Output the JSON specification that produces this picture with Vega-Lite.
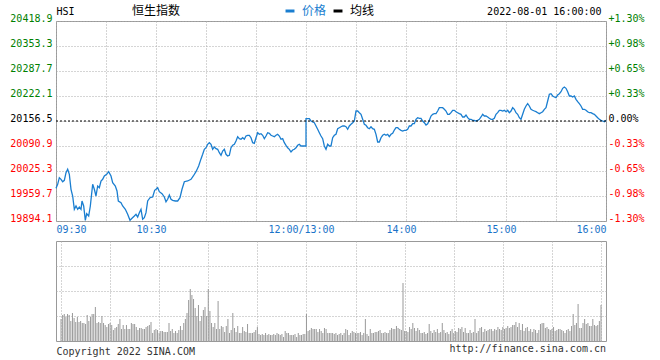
{
"$schema": "https://vega.github.io/schema/vega-lite/v6.json",
"background": "white",
"padding": {"left": 9, "top": 4, "right": 0, "bottom": 0},
"config": {"view": {"stroke": "#999999", "strokeWidth": 1}, "font": "DejaVu Sans Mono"},
"spacing": 20,
"bounds": "flush",
"datasets": {
"price": [
{"t":0,"p":19979.9},{"t":1,"p":19990.4},{"t":2,"p":20007.7},{"t":3,"p":20003.5},{"t":4,"p":19997.2},{"t":5,"p":20000.9},{"t":6,"p":20020.8},{"t":7,"p":20029.8},{"t":8,"p":20016.6},{"t":9,"p":19977.3},{"t":10,"p":19959.7},{"t":11,"p":19924.8},{"t":12,"p":19933.5},{"t":13,"p":19924.8},{"t":14,"p":19930.8},{"t":15,"p":19924.8},{"t":15.6,"p":19946.6},{"t":16.6,"p":19933.5},{"t":17.6,"p":19895.9},{"t":18.4,"p":19913.3},{"t":19.6,"p":19907.2},{"t":20.6,"p":19933.5},{"t":22,"p":19990.4},{"t":23,"p":19977.3},{"t":24,"p":19959.7},{"t":25,"p":19985.9},{"t":26,"p":19981.5},{"t":27,"p":19999.1},{"t":28,"p":20003.5},{"t":29,"p":20012.2},{"t":30.4,"p":20016.6},{"t":31.6,"p":20023.5},{"t":33,"p":20012.2},{"t":34,"p":19994.6},{"t":35.6,"p":19985.9},{"t":36.6,"p":19972.8},{"t":37.4,"p":19946.6},{"t":39,"p":19942.1},{"t":40,"p":19933.5},{"t":41.6,"p":19924.8},{"t":43,"p":19911.7},{"t":44.4,"p":19895.9},{"t":45.6,"p":19901.2},{"t":47,"p":19907.2},{"t":48,"p":19911.7},{"t":49,"p":19904.6},{"t":50,"p":19915.9},{"t":51,"p":19924.8},{"t":52,"p":19898.6},{"t":53,"p":19902.8},{"t":54,"p":19915.9},{"t":55,"p":19946.6},{"t":56.4,"p":19955.2},{"t":58,"p":19957.1},{"t":59.2,"p":19974.7},{"t":60,"p":19977.3},{"t":61,"p":19981.5},{"t":62,"p":19971.0},{"t":63.6,"p":19965.7},{"t":65,"p":19957.1},{"t":66,"p":19944.7},{"t":67,"p":19951.0},{"t":68,"p":19962.3},{"t":69,"p":19951.0},{"t":70,"p":19948.4},{"t":71.6,"p":19946.6},{"t":73,"p":19946.6},{"t":74.4,"p":19955.2},{"t":75.6,"p":19977.3},{"t":77,"p":19997.2},{"t":79,"p":19999.1},{"t":81,"p":20003.5},{"t":82.4,"p":20012.2},{"t":84,"p":20023.5},{"t":85.6,"p":20038.4},{"t":87,"p":20057.0},{"t":88,"p":20069.1},{"t":89,"p":20082.2},{"t":90,"p":20086.4},{"t":91,"p":20095.4},{"t":92,"p":20099.6},{"t":93,"p":20095.4},{"t":94,"p":20082.2},{"t":95,"p":20088.3},{"t":96,"p":20083.8},{"t":97,"p":20082.2},{"t":98,"p":20073.3},{"t":99,"p":20066.5},{"t":100,"p":20077.8},{"t":101,"p":20082.2},{"t":102,"p":20069.1},{"t":103,"p":20064.7},{"t":104,"p":20066.5},{"t":105,"p":20086.4},{"t":106,"p":20092.7},{"t":107,"p":20095.4},{"t":108,"p":20104.0},{"t":109,"p":20115.3},{"t":110,"p":20110.1},{"t":111,"p":20108.5},{"t":112,"p":20112.7},{"t":113,"p":20108.5},{"t":114,"p":20117.1},{"t":115,"p":20119.0},{"t":116,"p":20119.0},{"t":117,"p":20112.7},{"t":118,"p":20099.6},{"t":119,"p":20098.0},{"t":120,"p":20112.7},{"t":121,"p":20125.8},{"t":122,"p":20121.6},{"t":123,"p":20123.2},{"t":124,"p":20119.0},{"t":125,"p":20110.1},{"t":126,"p":20117.1},{"t":127,"p":20125.8},{"t":128,"p":20124.2},{"t":129,"p":20119.0},{"t":130,"p":20117.1},{"t":131,"p":20115.3},{"t":132,"p":20119.0},{"t":133,"p":20121.6},{"t":134,"p":20117.1},{"t":135,"p":20108.5},{"t":136,"p":20110.1},{"t":137,"p":20099.6},{"t":138,"p":20092.7},{"t":139,"p":20086.4},{"t":140,"p":20082.2},{"t":141,"p":20075.2},{"t":142,"p":20080.4},{"t":143,"p":20082.2},{"t":144,"p":20086.4},{"t":145,"p":20092.7},{"t":146,"p":20095.4},{"t":147,"p":20090.9},{"t":148,"p":20090.9},{"t":149,"p":20090.9},{"t":150,"p":20090.9},{"t":150,"p":20162.5},{"t":151,"p":20162.5},{"t":152,"p":20162.5},{"t":153,"p":20156.5},{"t":154,"p":20153.9},{"t":155,"p":20152.0},{"t":156,"p":20143.4},{"t":157,"p":20134.7},{"t":158,"p":20125.8},{"t":159,"p":20117.1},{"t":160,"p":20110.1},{"t":161,"p":20090.9},{"t":162,"p":20082.2},{"t":163,"p":20095.4},{"t":164,"p":20090.9},{"t":165,"p":20090.9},{"t":166,"p":20112.7},{"t":167,"p":20119.0},{"t":168,"p":20121.6},{"t":169,"p":20136.3},{"t":170,"p":20138.9},{"t":171,"p":20141.5},{"t":172,"p":20143.4},{"t":173,"p":20143.4},{"t":174,"p":20141.5},{"t":175,"p":20134.7},{"t":176,"p":20143.4},{"t":177,"p":20147.8},{"t":178,"p":20152.0},{"t":179,"p":20156.5},{"t":180,"p":20182.7},{"t":181,"p":20182.7},{"t":182,"p":20178.3},{"t":183,"p":20174.1},{"t":184,"p":20161.0},{"t":185,"p":20147.8},{"t":186,"p":20145.2},{"t":187,"p":20138.9},{"t":188,"p":20136.3},{"t":189,"p":20141.5},{"t":190,"p":20136.3},{"t":191,"p":20134.7},{"t":192,"p":20121.6},{"t":193,"p":20101.4},{"t":194,"p":20101.4},{"t":195,"p":20112.7},{"t":196,"p":20119.0},{"t":197,"p":20121.6},{"t":198,"p":20119.0},{"t":199,"p":20121.6},{"t":200,"p":20115.3},{"t":201,"p":20121.6},{"t":202,"p":20124.2},{"t":203,"p":20132.9},{"t":204,"p":20138.9},{"t":205,"p":20138.9},{"t":206,"p":20134.7},{"t":207,"p":20132.1},{"t":208,"p":20130.3},{"t":209,"p":20132.1},{"t":210,"p":20132.1},{"t":211,"p":20134.7},{"t":212,"p":20143.4},{"t":213,"p":20143.4},{"t":214,"p":20149.4},{"t":215,"p":20149.4},{"t":216,"p":20161.0},{"t":217,"p":20165.2},{"t":218,"p":20163.6},{"t":219,"p":20163.6},{"t":220,"p":20156.5},{"t":221,"p":20152.0},{"t":222,"p":20146.0},{"t":223,"p":20149.4},{"t":224,"p":20158.3},{"t":225,"p":20169.6},{"t":226,"p":20174.1},{"t":227,"p":20175.7},{"t":228,"p":20175.7},{"t":229,"p":20182.7},{"t":230,"p":20191.4},{"t":231,"p":20191.4},{"t":232,"p":20191.4},{"t":233,"p":20187.2},{"t":234,"p":20182.7},{"t":235,"p":20174.1},{"t":236,"p":20174.1},{"t":237,"p":20178.3},{"t":238,"p":20184.6},{"t":239,"p":20184.6},{"t":240,"p":20180.9},{"t":241,"p":20178.3},{"t":242,"p":20175.7},{"t":243,"p":20174.1},{"t":244,"p":20167.0},{"t":245,"p":20167.0},{"t":246,"p":20172.2},{"t":247,"p":20165.2},{"t":248,"p":20161.0},{"t":249,"p":20161.0},{"t":250,"p":20158.3},{"t":251,"p":20158.3},{"t":252,"p":20156.5},{"t":253,"p":20158.3},{"t":254,"p":20161.0},{"t":255,"p":20167.0},{"t":256,"p":20174.1},{"t":257,"p":20169.6},{"t":258,"p":20169.6},{"t":259,"p":20167.0},{"t":260,"p":20163.6},{"t":261,"p":20161.0},{"t":262,"p":20161.0},{"t":263,"p":20163.6},{"t":264,"p":20174.1},{"t":265,"p":20178.3},{"t":266,"p":20184.6},{"t":267,"p":20184.6},{"t":268,"p":20182.7},{"t":269,"p":20184.6},{"t":270,"p":20180.9},{"t":271,"p":20184.6},{"t":272,"p":20178.3},{"t":273,"p":20182.7},{"t":274,"p":20191.4},{"t":275,"p":20187.2},{"t":276,"p":20178.3},{"t":277,"p":20174.1},{"t":278,"p":20165.2},{"t":279,"p":20161.0},{"t":280,"p":20174.1},{"t":281,"p":20187.2},{"t":282,"p":20195.9},{"t":283,"p":20201.9},{"t":284,"p":20195.9},{"t":285,"p":20187.2},{"t":286,"p":20184.6},{"t":287,"p":20182.7},{"t":288,"p":20180.9},{"t":289,"p":20178.3},{"t":290,"p":20175.7},{"t":291,"p":20178.3},{"t":292,"p":20180.9},{"t":293,"p":20187.2},{"t":294,"p":20191.4},{"t":295,"p":20209.0},{"t":296,"p":20226.6},{"t":297,"p":20228.1},{"t":298,"p":20222.1},{"t":299,"p":20219.5},{"t":300,"p":20217.6},{"t":301,"p":20224.7},{"t":302,"p":20228.1},{"t":303,"p":20233.4},{"t":304,"p":20242.3},{"t":305,"p":20245.7},{"t":306,"p":20242.3},{"t":307,"p":20233.4},{"t":308,"p":20222.1},{"t":309,"p":20222.1},{"t":310,"p":20219.5},{"t":311,"p":20222.1},{"t":312,"p":20213.4},{"t":313,"p":20207.1},{"t":314,"p":20201.9},{"t":315,"p":20195.9},{"t":316,"p":20187.2},{"t":317,"p":20187.2},{"t":318,"p":20184.6},{"t":319,"p":20180.9},{"t":320,"p":20178.3},{"t":321,"p":20178.3},{"t":322,"p":20175.7},{"t":323,"p":20174.1},{"t":324,"p":20169.6},{"t":325,"p":20165.2},{"t":326,"p":20161.0},{"t":327,"p":20158.3},{"t":328,"p":20156.5},{"t":329,"p":20154.7},{"t":330,"p":20158.3}
],
"vol": [
{"t":0,"v":22},{"t":1,"v":26},{"t":2,"v":27},{"t":3,"v":24},{"t":4,"v":27},{"t":5,"v":26},{"t":6,"v":20},{"t":7,"v":28},{"t":8,"v":23},{"t":9,"v":19},{"t":10,"v":24},{"t":11,"v":19},{"t":12,"v":20},{"t":13,"v":18},{"t":14,"v":18},{"t":15,"v":17},{"t":16,"v":26},{"t":17,"v":20},{"t":18,"v":24},{"t":19,"v":27},{"t":20,"v":27},{"t":21,"v":34},{"t":22,"v":18},{"t":23,"v":19},{"t":24,"v":18},{"t":25,"v":25},{"t":26,"v":18},{"t":27,"v":16},{"t":28,"v":14},{"t":29,"v":17},
{"t":30,"v":18},{"t":31,"v":16},{"t":32,"v":11},{"t":33,"v":13},{"t":34,"v":14},{"t":35,"v":17},{"t":36,"v":22},{"t":37,"v":12},{"t":38,"v":16},{"t":39,"v":12},{"t":40,"v":16},{"t":41,"v":12},{"t":42,"v":12},{"t":43,"v":18},{"t":44,"v":17},{"t":45,"v":17},{"t":46,"v":14},{"t":47,"v":11},{"t":48,"v":13},{"t":49,"v":13},{"t":50,"v":12},{"t":51,"v":12},{"t":52,"v":14},{"t":53,"v":15},{"t":54,"v":16},{"t":55,"v":19},{"t":56,"v":8},{"t":57,"v":11},{"t":58,"v":12},{"t":59,"v":11},
{"t":60,"v":8},{"t":61,"v":10},{"t":62,"v":10},{"t":63,"v":9},{"t":64,"v":9},{"t":65,"v":9},{"t":66,"v":18},{"t":67,"v":10},{"t":68,"v":12},{"t":69,"v":8},{"t":70,"v":10},{"t":71,"v":8},{"t":72,"v":11},{"t":73,"v":15},{"t":74,"v":11},{"t":75,"v":18},{"t":76,"v":22},{"t":77,"v":28},{"t":78,"v":41},{"t":79,"v":52},{"t":80,"v":46},{"t":81,"v":42},{"t":82,"v":33},{"t":83,"v":25},{"t":84,"v":36},{"t":85,"v":20},{"t":86,"v":25},{"t":87,"v":31},{"t":88,"v":34},{"t":89,"v":25},
{"t":90,"v":52},{"t":91,"v":30},{"t":92,"v":18},{"t":93,"v":14},{"t":94,"v":18},{"t":95,"v":12},{"t":96,"v":40},{"t":97,"v":12},{"t":98,"v":15},{"t":99,"v":14},{"t":100,"v":9},{"t":101,"v":15},{"t":102,"v":22},{"t":103,"v":8},{"t":104,"v":11},{"t":105,"v":28},{"t":106,"v":13},{"t":107,"v":9},{"t":108,"v":15},{"t":109,"v":8},{"t":110,"v":8},{"t":111,"v":14},{"t":112,"v":10},{"t":113,"v":9},{"t":114,"v":17},{"t":115,"v":8},{"t":116,"v":8},{"t":117,"v":8},{"t":118,"v":9},{"t":119,"v":11},
{"t":120,"v":14},{"t":121,"v":7},{"t":122,"v":6},{"t":123,"v":7},{"t":124,"v":6},{"t":125,"v":8},{"t":126,"v":6},{"t":127,"v":7},{"t":128,"v":6},{"t":129,"v":6},{"t":130,"v":7},{"t":131,"v":6},{"t":132,"v":8},{"t":133,"v":7},{"t":134,"v":6},{"t":135,"v":7},{"t":136,"v":4},{"t":137,"v":10},{"t":138,"v":8},{"t":139,"v":8},{"t":140,"v":6},{"t":141,"v":6},{"t":142,"v":6},{"t":143,"v":7},{"t":144,"v":4},{"t":145,"v":8},{"t":146,"v":6},{"t":147,"v":6},{"t":148,"v":7},{"t":149,"v":7},
{"t":150,"v":27},{"t":151,"v":10},{"t":152,"v":11},{"t":153,"v":13},{"t":154,"v":12},{"t":155,"v":12},{"t":156,"v":12},{"t":157,"v":9},{"t":158,"v":12},{"t":159,"v":10},{"t":160,"v":8},{"t":161,"v":13},{"t":162,"v":12},{"t":163,"v":8},{"t":164,"v":8},
{"t":165,"v":8},{"t":166,"v":8},{"t":167,"v":7},{"t":168,"v":8},{"t":169,"v":6},{"t":170,"v":7},{"t":171,"v":8},{"t":172,"v":6},{"t":173,"v":8},{"t":174,"v":12},{"t":175,"v":11},{"t":176,"v":6},{"t":177,"v":8},{"t":178,"v":10},{"t":179,"v":9},{"t":180,"v":8},{"t":181,"v":8},{"t":182,"v":8},{"t":183,"v":9},{"t":184,"v":6},{"t":185,"v":8},{"t":186,"v":22},{"t":187,"v":7},{"t":188,"v":5},{"t":189,"v":12},{"t":190,"v":8},{"t":191,"v":8},{"t":192,"v":9},{"t":193,"v":9},{"t":194,"v":10},{"t":195,"v":11},
{"t":196,"v":8},{"t":197,"v":8},{"t":198,"v":9},{"t":199,"v":8},{"t":200,"v":8},{"t":201,"v":11},{"t":202,"v":13},{"t":203,"v":12},{"t":204,"v":12},{"t":205,"v":15},{"t":206,"v":13},{"t":207,"v":12},{"t":208,"v":11},{"t":209,"v":58},{"t":210,"v":10},{"t":211,"v":10},{"t":212,"v":9},{"t":213,"v":14},{"t":214,"v":12},{"t":215,"v":18},{"t":216,"v":13},{"t":217,"v":10},{"t":218,"v":13},{"t":219,"v":11},{"t":220,"v":8},{"t":221,"v":8},{"t":222,"v":9},{"t":223,"v":7},{"t":224,"v":8},{"t":225,"v":17},
{"t":226,"v":10},{"t":227,"v":8},{"t":228,"v":11},{"t":229,"v":9},{"t":230,"v":12},{"t":231,"v":8},{"t":232,"v":9},{"t":233,"v":18},{"t":234,"v":11},{"t":235,"v":8},{"t":236,"v":9},{"t":237,"v":7},{"t":238,"v":10},{"t":239,"v":12},{"t":240,"v":8},{"t":241,"v":10},{"t":242,"v":9},{"t":243,"v":13},{"t":244,"v":12},{"t":245,"v":14},{"t":246,"v":9},{"t":247,"v":13},{"t":248,"v":8},{"t":249,"v":8},{"t":250,"v":11},{"t":251,"v":8},{"t":252,"v":9},{"t":253,"v":22},{"t":254,"v":8},{"t":255,"v":10},
{"t":256,"v":13},{"t":257,"v":14},{"t":258,"v":9},{"t":259,"v":12},{"t":260,"v":10},{"t":261,"v":11},{"t":262,"v":12},{"t":263,"v":12},{"t":264,"v":10},{"t":265,"v":12},{"t":266,"v":11},{"t":267,"v":14},{"t":268,"v":12},{"t":269,"v":11},{"t":270,"v":14},{"t":271,"v":12},{"t":272,"v":13},{"t":273,"v":15},{"t":274,"v":13},{"t":275,"v":14},{"t":276,"v":16},{"t":277,"v":16},{"t":278,"v":19},{"t":279,"v":14},{"t":280,"v":18},{"t":281,"v":11},{"t":282,"v":17},{"t":283,"v":10},{"t":284,"v":13},{"t":285,"v":14},
{"t":286,"v":10},{"t":287,"v":12},{"t":288,"v":9},{"t":289,"v":12},{"t":290,"v":11},{"t":291,"v":8},{"t":292,"v":11},{"t":293,"v":17},{"t":294,"v":18},{"t":295,"v":18},{"t":296,"v":13},{"t":297,"v":14},{"t":298,"v":12},{"t":299,"v":11},{"t":300,"v":12},{"t":301,"v":14},{"t":302,"v":10},{"t":303,"v":11},{"t":304,"v":12},{"t":305,"v":12},{"t":306,"v":11},{"t":307,"v":10},{"t":308,"v":8},{"t":309,"v":11},{"t":310,"v":12},{"t":311,"v":10},{"t":312,"v":15},{"t":313,"v":27},{"t":314,"v":16},{"t":315,"v":18},{"t":316,"v":37},{"t":317,"v":13},{"t":318,"v":13},{"t":319,"v":18},{"t":320,"v":22},{"t":321,"v":17},{"t":322,"v":18},{"t":323,"v":15},{"t":324,"v":15},{"t":325,"v":22},{"t":326,"v":16},{"t":327,"v":15},{"t":328,"v":16},{"t":329,"v":20},{"t":330,"v":36}
],
"prev": [{"close": 20156.5}]
},
"vconcat": [
{
"width": 550, "height": 200,
"title": {"text": "恒生指数", "anchor": "start", "frame": "group", "dx": 76, "dy": 12, "offset": 0, "font": "Noto Sans CJK SC", "fontSize": 12, "fontWeight": "normal", "color": "#000000"},
"layer": [
{"data": {"name": "price"},
"mark": {"type": "line", "strokeWidth": 1.3},
"encoding": {
"x": {"field": "t", "type": "quantitative", "scale": {"domain": [0, 330], "nice": false, "zero": false},
"axis": {"values": [0,30,60,90,120,150,180,210,240,270,300,330], "grid": true, "gridColor": "#aaaaaa", "gridDash": [1,2], "domain": false, "ticks": false, "title": null, "labelOverlap": false,
"labelExpr": "datum.value == 0 ? '09:30' : datum.value == 60 ? '10:30' : datum.value == 150 ? '12:00/13:00' : datum.value == 210 ? '14:00' : datum.value == 270 ? '15:00' : datum.value == 330 ? '16:00' : ''",
"labelAlign": {"expr": "datum.value == 0 ? 'left' : datum.value == 330 ? 'right' : 'center'"},
"labelOffset": {"expr": "datum.value == 0 || datum.value == 330 ? 0 : -5"},
"labelFont": "DejaVu Sans Mono", "labelFontSize": 10, "labelColor": "#1a73c8", "labelPadding": 3}},
"y": {"field": "p", "type": "quantitative", "scale": {"domain": [19894.1, 20418.9], "nice": false, "zero": false},
"axis": {"values": [19894.1,19959.7,20025.3,20090.9,20156.5,20222.1,20287.7,20353.3,20418.9], "format": ".1f", "grid": true, "gridColor": "#aaaaaa", "gridDash": [1,2], "domain": false, "ticks": false,
"labelFont": "DejaVu Sans Mono", "labelFontSize": 10, "labelPadding": 4, "labelOffset": -3,
"labelColor": {"expr": "datum.value > 20157 ? '#008000' : datum.value < 20156 ? '#ff0000' : '#000000'"},
"title": "HSI", "titleAngle": 0, "titleX": 0, "titleY": -10, "titleAlign": "left", "titleBaseline": "middle", "titleFont": "DejaVu Sans Mono", "titleFontSize": 10, "titleFontWeight": "normal", "titleColor": "#000000"}},
"color": {"datum": "价格", "type": "nominal", "scale": {"domain": ["价格", "均线"], "range": ["#1a7ed0", "#000000"]},
"legend": {"orient": "none", "legendX": 228, "legendY": -16, "direction": "horizontal", "title": null, "padding": 0, "symbolType": "stroke", "symbolStrokeWidth": 3, "symbolSize": 80, "labelFont": "Noto Sans CJK SC", "labelFontSize": 12, "labelOffset": 6, "columnPadding": 0,
"labelColor": {"expr": "datum.label == '价格' ? '#1a7ed0' : '#000000'"}}}
}},
{"data": {"name": "prev"},
"mark": {"type": "rule", "color": "#000000", "strokeDash": [2,2], "strokeWidth": 1},
"encoding": {
"y": {"field": "close", "type": "quantitative", "scale": {"domain": [19894.1, 20418.9], "nice": false, "zero": false},
"axis": {"orient": "right", "values": [19894.1,19959.7,20025.3,20090.9,20156.5,20222.1,20287.7,20353.3,20418.9], "grid": false, "domain": false, "ticks": false,
"labelFont": "DejaVu Sans Mono", "labelFontSize": 10, "labelPadding": 2, "labelOffset": -3,
"labelColor": {"expr": "datum.value > 20157 ? '#008000' : datum.value < 20156 ? '#ff0000' : '#000000'"},
"labelExpr": "datum.value > 20157 ? '+' + format((datum.value / 20156.5 - 1) * 100, '.2f') + '%' : datum.value < 20156 ? '-' + format((1 - datum.value / 20156.5) * 100, '.2f') + '%' : '0.00%'",
"title": "2022-08-01 16:00:00", "titleAngle": 0, "titleX": -5, "titleY": -10, "titleAlign": "right", "titleBaseline": "middle", "titleFont": "DejaVu Sans Mono", "titleFontSize": 10, "titleFontWeight": "normal", "titleColor": "#000000"}}
}}
],
"resolve": {"axis": {"y": "independent"}}
},
{
"width": 550, "height": 100,
"data": {"name": "vol"},
"title": {"text": "http://finance.sina.com.cn", "orient": "bottom", "anchor": "end", "frame": "group", "offset": 0, "dy": -12, "font": "DejaVu Sans Mono", "fontSize": 10, "fontWeight": "normal", "color": "#333333"},
"mark": {"type": "bar", "color": "#999999", "width": 1},
"encoding": {
"x": {"field": "t", "type": "quantitative", "scale": {"domain": [0, 330], "nice": false, "zero": false},
"axis": {"values": [0,30,60,90,120,150,180,210,240,270,300,330], "grid": true, "gridColor": "#aaaaaa", "gridDash": [1,2], "domain": false, "ticks": false, "labels": false,
"title": "Copyright 2022 SINA.COM", "titleX": 0, "titleY": 10, "titleAlign": "left", "titleBaseline": "middle", "titleFont": "DejaVu Sans Mono", "titleFontSize": 10, "titleFontWeight": "normal", "titleColor": "#333333"}},
"y": {"field": "v", "type": "quantitative", "scale": {"domain": [0, 100], "nice": false},
"axis": {"values": [25, 50, 75], "grid": true, "gridColor": "#aaaaaa", "gridDash": [1,2], "domain": false, "ticks": false, "labels": false, "title": null}}
}
}
]
}
